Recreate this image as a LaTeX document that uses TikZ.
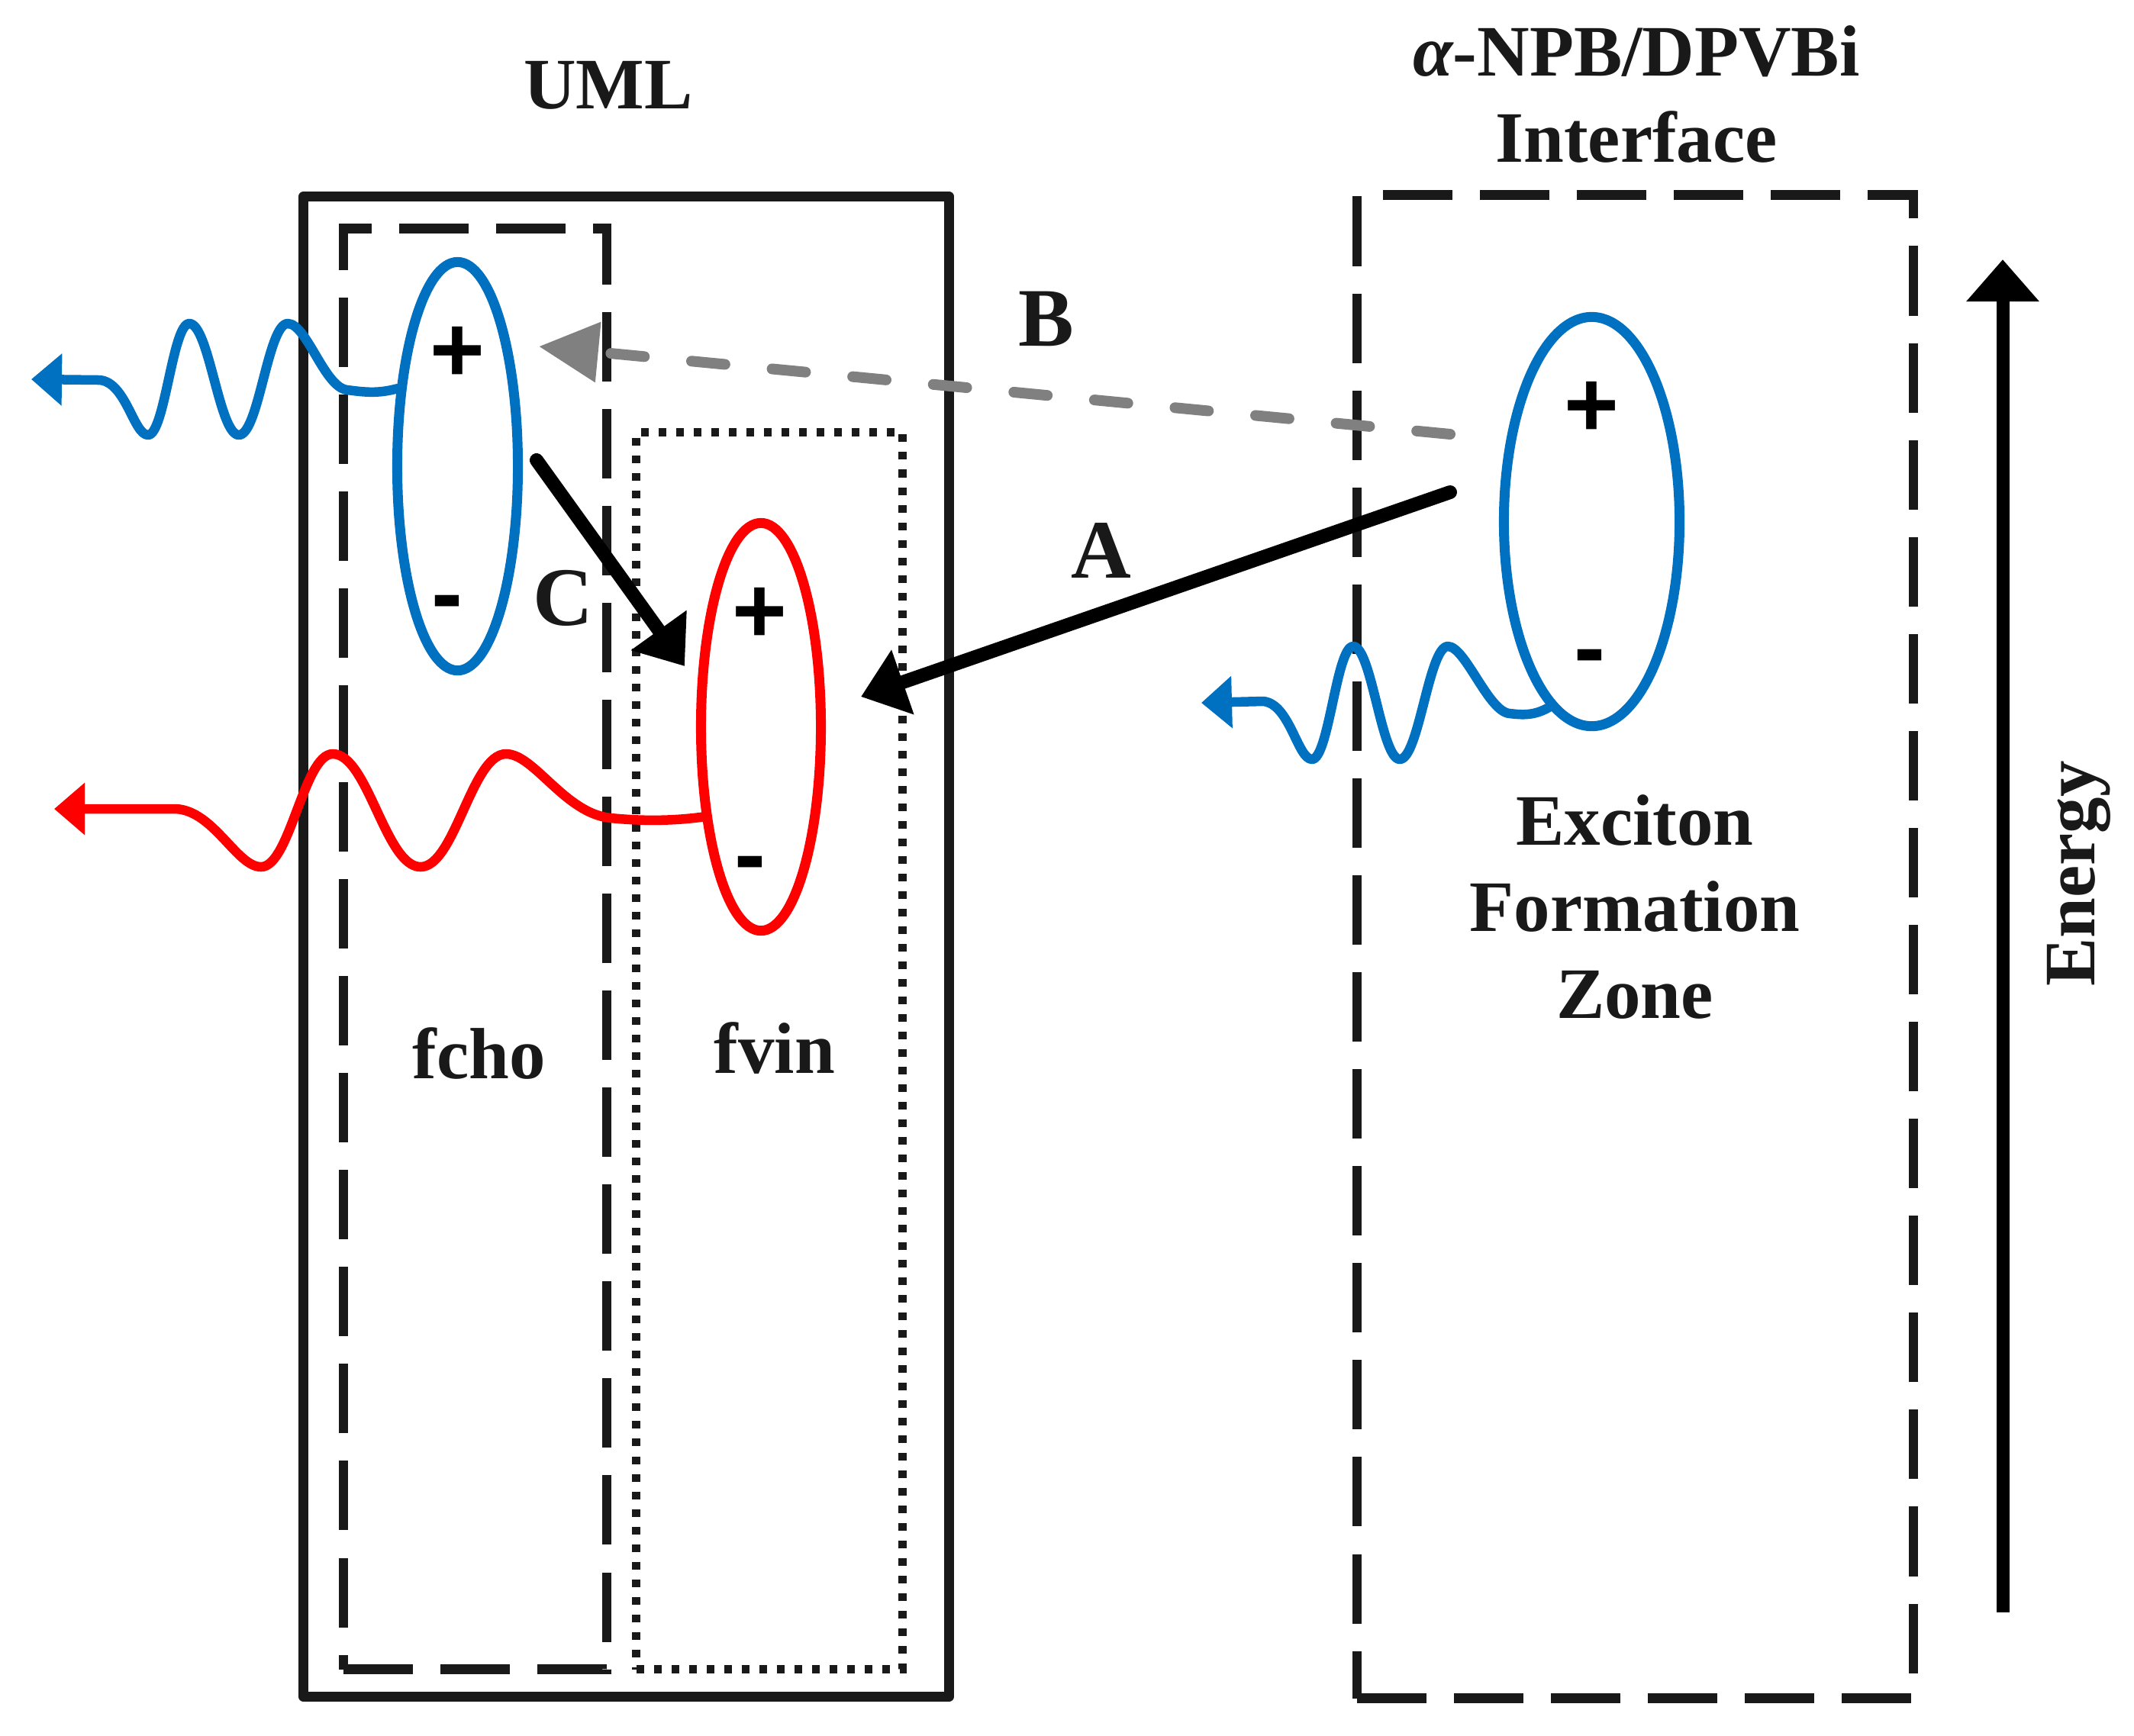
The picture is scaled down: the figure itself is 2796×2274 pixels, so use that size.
\documentclass[tikz,border=0pt]{standalone}
\usepackage{fontspec}
\setmainfont{Liberation Serif}
\newfontfamily\signfont{Liberation Sans}
\usetikzlibrary{arrows.meta,shapes.geometric}
\definecolor{exblue}{RGB}{0,112,192}
\definecolor{exred}{RGB}{255,0,0}
\definecolor{exgray}{RGB}{128,128,128}
\definecolor{ink}{RGB}{25,25,25}
\begin{document}
\begin{tikzpicture}[x=0.01cm,y=-0.01cm,
  title/.style={font=\fontsize{27}{33}\selectfont\bfseries, text=ink, inner sep=0pt, anchor=base},
  letter/.style={font=\fontsize{31}{37}\selectfont\bfseries, text=ink, inner sep=0pt, anchor=base},
  sign/.style={font=\signfont\fontsize{35}{40}\selectfont\bfseries, inner sep=0pt, anchor=base},
  solidbox/.style={draw=ink, line width=0.13cm, inner sep=0pt, line join=round},
  dashbox/.style={draw=ink, line width=0.125cm, dash pattern=on 0.91cm off 0.36cm, inner sep=0pt},
  dotbox/.style={draw=ink, line width=0.11cm, dash pattern=on 0.1cm off 0.13cm, inner sep=0pt},
  exciton/.style={draw, ellipse, line width=0.13cm, inner sep=0pt},
  wave/.style={line width=0.125cm, line cap=round, line join=round, -{Triangle[length=0.4cm,width=0.66cm]}},
  transfer/.style={line width=0.18cm, line cap=round, -{Triangle[length=0.58cm,width=0.86cm]}},
]
\fill[white] (0,0) rectangle (2796,2274);
\useasboundingbox (0,0) rectangle (2796,2274);

% boxes
\node[solidbox, minimum width=8.45cm, minimum height=19.65cm] (umlbox) at (820.5,1240.5) {};
\node[dashbox, minimum width=3.45cm, minimum height=18.87cm] (fchobox) at (622.5,1243.5) {};
\node[dotbox, minimum width=3.48cm, minimum height=16.20cm] (fvinbox) at (1008,1377) {};
\node[dashbox, minimum width=7.29cm, minimum height=19.69cm] (ifcbox) at (2142.5,1240.5) {};

% excitons
\node[exciton, draw=exblue, minimum width=1.58cm, minimum height=5.35cm] (e1) at (599.5,611) {};
\node[exciton, draw=exred, minimum width=1.57cm, minimum height=5.34cm] (e2) at (997,952.5) {};
\node[exciton, draw=exblue, minimum width=2.30cm, minimum height=5.36cm] (e3) at (2085.5,683.5) {};

\node[sign] (p1) at (599,500) {+};
\node[sign] (m1) at (586,819) {-};
\node[sign] (p2) at (995,842) {+};
\node[sign] (m2) at (983,1161) {-};
\node[sign] (p3) at (2085,572) {+};
\node[sign] (m3) at (2083,890) {-};

% emission waves
\coordinate (w1end) at (41,497);
\coordinate (w2end) at (71,1060);
\coordinate (w3end) at (1574,921);
\draw[wave, exblue] (e1.128) .. controls (495,516) and (478,514) .. (455,511)
  .. controls (425,508) and (402,424) .. (377,424)
  .. controls (351,424) and (339,570) .. (313,570)
  .. controls (287,570) and (274,424) .. (248,424)
  .. controls (226,424) and (216,570) .. (194,570)
  .. controls (175,570) and (165,500) .. (130,498)
  -- (w1end);
\draw[wave, exred] (e2.237) .. controls (880,1076) and (840,1076) .. (800,1072)
  .. controls (740,1066) and (700,988) .. (663,988)
  .. controls (618,988) and (596,1136) .. (551,1136)
  .. controls (505,1136) and (482,988) .. (436,988)
  .. controls (398,988) and (380,1136) .. (342,1136)
  .. controls (310,1136) and (280,1062) .. (230,1060)
  -- (w2end);
\draw[wave, exblue] (e3.257) .. controls (2010,938) and (1995,937) .. (1978,935)
  .. controls (1950,933) and (1920,847) .. (1897,847)
  .. controls (1872,847) and (1859,995) .. (1834,995)
  .. controls (1810,995) and (1797,847) .. (1773,847)
  .. controls (1751,847) and (1741,995) .. (1719,995)
  .. controls (1700,995) and (1690,922) .. (1655,919)
  -- (w3end);

% transfer arrows
\coordinate (Bs) at (1900,569);
\coordinate (Bt) at (706,454);
\coordinate (As) at (1900,645);
\coordinate (At) at (1128,913);
\coordinate (Cs) at (703,603);
\coordinate (Ct) at (897,873);
\draw[exgray, line width=0.14cm, line cap=round, dash pattern=on 0.44cm off 0.62cm,
      -{Triangle[length=0.78cm,width=0.76cm]}] (Bs) -- (Bt);
\draw[transfer] (As) -- (At);
\draw[transfer] (Cs) -- (Ct);

% energy axis
\coordinate (Es) at (2624,2113);
\coordinate (Et) at (2624,340);
\draw[line width=0.17cm, -{Triangle[length=0.55cm,width=0.92cm]}] (Es) -- (Et);

% labels
\node[title] (uml) at (797,142) {UML};
\node[title] (ifc1) at (2144,99) {{\itshape α}-NPB/DPVBi};
\node[title] (ifc2) at (2144,212) {Interface};
\node[title] (efz1) at (2142,1107) {Exciton};
\node[title] (efz2) at (2142,1220) {Formation};
\node[title] (efz3) at (2142,1334) {Zone};
\node[title] (fcho) at (628,1413) {fcho};
\node[title] (fvin) at (1015,1406) {fvin};
\node[title, rotate=90] (energy) at (2744,1145) {Energy};
\node[letter] (lb) at (1371,453) {B};
\node[letter] (la) at (1443,757) {A};
\node[letter] (lc) at (738,819) {C};
\end{tikzpicture}
\end{document}
